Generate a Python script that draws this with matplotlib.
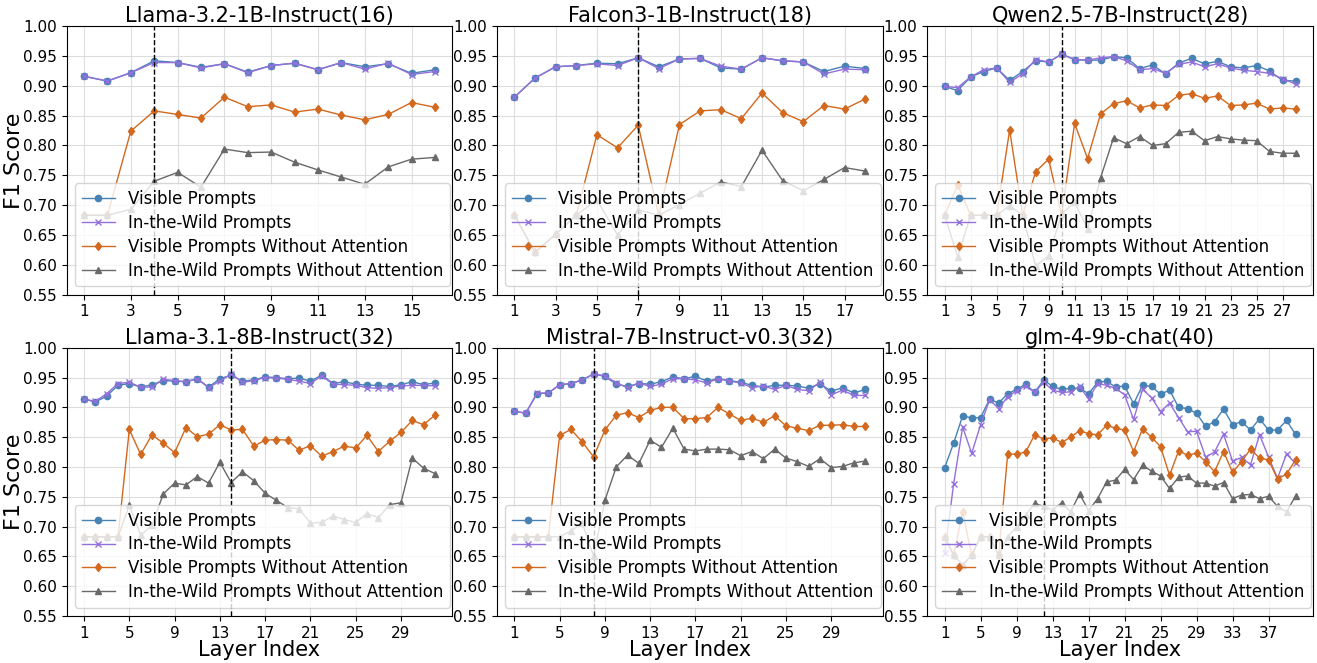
import matplotlib
matplotlib.use("Agg")
import matplotlib.pyplot as plt
import numpy as np

plt.rcParams['font.family'] = ['DejaVu Sans']

models = ["Llama-3.2-1B-Instruct(16)", "Falcon3-1B-Instruct(18)", "Qwen2.5-7B-Instruct(28)",
          "Llama-3.1-8B-Instruct(32)", "Mistral-7B-Instruct-v0.3(32)", "glm-4-9b-chat(40)"]
best_layer = [4, 7, 10, 14, 8, 12]

series_names = ["Visible Prompts", "In-the-Wild Prompts",
                "Visible Prompts Without Attention", "In-the-Wild Prompts Without Attention"]

# Llama-3.2-1B-Instruct
llama32_vis = [0.916, 0.908, 0.922, 0.942, 0.939, 0.931, 0.937, 0.923, 0.934, 0.938, 0.927, 0.939, 0.932, 0.937, 0.921, 0.927]
llama32_wild = [0.916, 0.908, 0.922, 0.939, 0.939, 0.930, 0.937, 0.922, 0.934, 0.938, 0.927, 0.939, 0.928, 0.938, 0.919, 0.924]
llama32_vis_na = [0.683, 0.683, 0.824, 0.858, 0.852, 0.846, 0.881, 0.865, 0.868, 0.856, 0.861, 0.851, 0.843, 0.852, 0.872, 0.864]
llama32_wild_na = [0.683, 0.683, 0.693, 0.740, 0.755, 0.730, 0.794, 0.788, 0.789, 0.772, 0.759, 0.747, 0.735, 0.764, 0.777, 0.780]

# Falcon3-1B-Instruct
falcon_vis = [0.881, 0.913, 0.932, 0.934, 0.938, 0.937, 0.947, 0.932, 0.945, 0.946, 0.930, 0.928, 0.947, 0.942, 0.940, 0.924, 0.933, 0.929]
falcon_wild = [0.881, 0.913, 0.932, 0.934, 0.937, 0.934, 0.947, 0.929, 0.945, 0.946, 0.933, 0.928, 0.947, 0.942, 0.940, 0.920, 0.928, 0.927]
falcon_vis_na = [0.683, 0.621, 0.651, 0.683, 0.818, 0.796, 0.834, 0.683, 0.835, 0.858, 0.860, 0.845, 0.888, 0.855, 0.840, 0.867, 0.861, 0.878]
falcon_wild_na = [0.683, 0.621, 0.651, 0.683, 0.709, 0.650, 0.692, 0.683, 0.701, 0.720, 0.739, 0.731, 0.792, 0.741, 0.724, 0.743, 0.763, 0.757]

# Qwen2.5-7B-Instruct
qwen_vis = [0.899, 0.892, 0.915, 0.924, 0.930, 0.909, 0.924, 0.942, 0.940, 0.953, 0.944, 0.943, 0.943, 0.949,
            0.947, 0.929, 0.935, 0.920, 0.938, 0.946, 0.937, 0.941, 0.932, 0.930, 0.934, 0.925, 0.909, 0.908]
qwen_wild = [0.899, 0.897, 0.915, 0.927, 0.930, 0.906, 0.920, 0.944, 0.940, 0.953, 0.944, 0.943, 0.947, 0.949,
             0.942, 0.927, 0.929, 0.921, 0.936, 0.940, 0.932, 0.937, 0.930, 0.926, 0.924, 0.921, 0.912, 0.903]
qwen_vis_na = [0.683, 0.734, 0.683, 0.683, 0.683, 0.826, 0.683, 0.756, 0.777, 0.683, 0.837, 0.778, 0.853, 0.870,
               0.875, 0.863, 0.868, 0.867, 0.884, 0.887, 0.879, 0.883, 0.867, 0.868, 0.871, 0.861, 0.863, 0.861]
qwen_wild_na = [0.683, 0.613, 0.683, 0.683, 0.683, 0.699, 0.683, 0.598, 0.615, 0.685, 0.705, 0.660, 0.746, 0.813,
                0.803, 0.815, 0.800, 0.803, 0.822, 0.824, 0.808, 0.815, 0.811, 0.809, 0.808, 0.790, 0.787, 0.787]

# Llama-3.1-8B-Instruct
llama31_vis = [0.914, 0.909, 0.919, 0.937, 0.940, 0.934, 0.938, 0.945, 0.944, 0.943, 0.948, 0.934, 0.948, 0.954, 0.944, 0.946,
               0.951, 0.950, 0.948, 0.949, 0.944, 0.954, 0.940, 0.943, 0.939, 0.937, 0.937, 0.935, 0.938, 0.943, 0.938, 0.941]
llama31_wild = [0.914, 0.910, 0.923, 0.940, 0.942, 0.934, 0.934, 0.947, 0.945, 0.943, 0.948, 0.933, 0.944, 0.956, 0.942, 0.945,
                0.950, 0.949, 0.947, 0.944, 0.940, 0.953, 0.939, 0.938, 0.937, 0.933, 0.932, 0.933, 0.936, 0.937, 0.937, 0.936]
llama31_vis_na = [0.683, 0.683, 0.683, 0.683, 0.863, 0.821, 0.854, 0.840, 0.824, 0.866, 0.851, 0.855, 0.871, 0.862, 0.863, 0.835,
                  0.845, 0.846, 0.845, 0.828, 0.836, 0.818, 0.826, 0.835, 0.832, 0.853, 0.826, 0.843, 0.858, 0.878, 0.871, 0.887]
llama31_wild_na = [0.683, 0.683, 0.683, 0.683, 0.736, 0.686, 0.702, 0.755, 0.773, 0.770, 0.784, 0.773, 0.808, 0.774, 0.792, 0.777,
                   0.756, 0.744, 0.732, 0.730, 0.706, 0.707, 0.718, 0.712, 0.707, 0.722, 0.715, 0.737, 0.740, 0.815, 0.798, 0.789]

# Mistral-7B-Instruct-v0.3
mistral_vis = [0.894, 0.890, 0.923, 0.924, 0.938, 0.940, 0.946, 0.956, 0.952, 0.939, 0.935, 0.940, 0.939, 0.943, 0.951, 0.948,
               0.952, 0.944, 0.948, 0.945, 0.942, 0.937, 0.934, 0.937, 0.937, 0.936, 0.932, 0.940, 0.927, 0.933, 0.924, 0.930]
mistral_wild = [0.894, 0.890, 0.924, 0.924, 0.938, 0.940, 0.946, 0.956, 0.953, 0.941, 0.933, 0.941, 0.935, 0.939, 0.948, 0.948,
                0.946, 0.941, 0.948, 0.944, 0.941, 0.933, 0.936, 0.930, 0.937, 0.930, 0.928, 0.942, 0.921, 0.929, 0.920, 0.920]
mistral_vis_na = [0.683, 0.683, 0.683, 0.683, 0.853, 0.863, 0.842, 0.817, 0.862, 0.887, 0.891, 0.883, 0.895, 0.900, 0.900, 0.881,
                  0.881, 0.883, 0.900, 0.889, 0.878, 0.882, 0.875, 0.886, 0.869, 0.865, 0.861, 0.870, 0.870, 0.871, 0.868, 0.868]
mistral_wild_na = [0.683, 0.683, 0.683, 0.683, 0.683, 0.693, 0.706, 0.651, 0.744, 0.800, 0.820, 0.806, 0.845, 0.833, 0.865, 0.830,
                   0.827, 0.830, 0.830, 0.829, 0.819, 0.826, 0.814, 0.830, 0.815, 0.809, 0.801, 0.814, 0.799, 0.801, 0.807, 0.810]

# glm-4-9b-chat
glm_vis = [0.799, 0.840, 0.886, 0.882, 0.883, 0.914, 0.907, 0.923, 0.930, 0.939, 0.925, 0.946, 0.935, 0.930, 0.932, 0.932,
           0.923, 0.942, 0.944, 0.934, 0.936, 0.906, 0.937, 0.935, 0.922, 0.929, 0.900, 0.898, 0.890, 0.868, 0.876, 0.897,
           0.871, 0.876, 0.862, 0.881, 0.862, 0.862, 0.878, 0.855]
glm_wild = [0.655, 0.772, 0.867, 0.823, 0.871, 0.913, 0.898, 0.918, 0.928, 0.936, 0.925, 0.942, 0.929, 0.925, 0.926, 0.935,
            0.914, 0.940, 0.937, 0.932, 0.921, 0.880, 0.930, 0.916, 0.893, 0.907, 0.883, 0.859, 0.860, 0.817, 0.825, 0.855,
            0.810, 0.816, 0.804, 0.854, 0.817, 0.781, 0.822, 0.806]
glm_vis_na = [0.683, 0.652, 0.725, 0.652, 0.683, 0.683, 0.652, 0.821, 0.822, 0.825, 0.854, 0.847, 0.849, 0.841, 0.850, 0.861,
              0.856, 0.854, 0.870, 0.865, 0.862, 0.826, 0.864, 0.850, 0.834, 0.786, 0.827, 0.820, 0.823, 0.809, 0.792, 0.826,
              0.791, 0.809, 0.830, 0.815, 0.812, 0.780, 0.788, 0.812]
glm_wild_na = [0.683, 0.652, 0.636, 0.652, 0.683, 0.683, 0.652, 0.683, 0.700, 0.719, 0.739, 0.734, 0.728, 0.740, 0.725, 0.755,
               0.727, 0.747, 0.775, 0.778, 0.796, 0.779, 0.803, 0.793, 0.785, 0.764, 0.783, 0.785, 0.773, 0.773, 0.768, 0.774,
               0.747, 0.753, 0.754, 0.747, 0.751, 0.734, 0.725, 0.751]

panel_data = [
    (llama32_vis, llama32_wild, llama32_vis_na, llama32_wild_na),
    (falcon_vis, falcon_wild, falcon_vis_na, falcon_wild_na),
    (qwen_vis, qwen_wild, qwen_vis_na, qwen_wild_na),
    (llama31_vis, llama31_wild, llama31_vis_na, llama31_wild_na),
    (mistral_vis, mistral_wild, mistral_vis_na, mistral_wild_na),
    (glm_vis, glm_wild, glm_vis_na, glm_wild_na),
]

colors = ['#4682B4', '#9370DB', '#D2691E', '#696969']
markers = ['o', 'x', 'd', '^']
msizes = [4.5, 4, 4.5, 4.5]

fig, axes = plt.subplots(2, 3, figsize=(13.17, 6.63), dpi=100)
plt.subplots_adjust(left=0.0505, right=0.997, top=0.9605, bottom=0.0707, wspace=0.115, hspace=0.198)

for idx, ax in enumerate(axes.flat):
    data = panel_data[idx]
    n = len(data[0])
    layers = np.arange(1, n + 1)
    for k in range(4):
        ax.plot(layers, data[k], color=colors[k], marker=markers[k], markersize=msizes[k],
                linewidth=1, label=series_names[k])
    ax.axvline(best_layer[idx], color='black', linestyle='--', linewidth=1)
    ax.set_title(models[idx], fontsize=15, pad=3)
    ax.set_ylim(0.55, 1.0)
    ax.set_yticks(np.arange(0.55, 1.001, 0.05))
    ax.yaxis.set_major_formatter(matplotlib.ticker.StrMethodFormatter('{x:.2f}'))
    step = 2 if n <= 28 else 4
    ax.set_xticks(np.arange(1, n + 1, step))
    ax.tick_params(labelsize=11)
    ax.grid(True, color='#dddddd', linewidth=0.8)
    ax.legend(loc='lower left', fontsize=12, labelspacing=0.35)
    if idx % 3 == 0:
        ax.set_ylabel('F1 Score', fontsize=16)
        ax.yaxis.set_label_coords(-0.11, 0.5)
    if idx >= 3:
        ax.set_xlabel('Layer Index', fontsize=15)
        ax.xaxis.set_label_coords(0.5, -0.088)

plt.savefig('out.png', dpi=100)
